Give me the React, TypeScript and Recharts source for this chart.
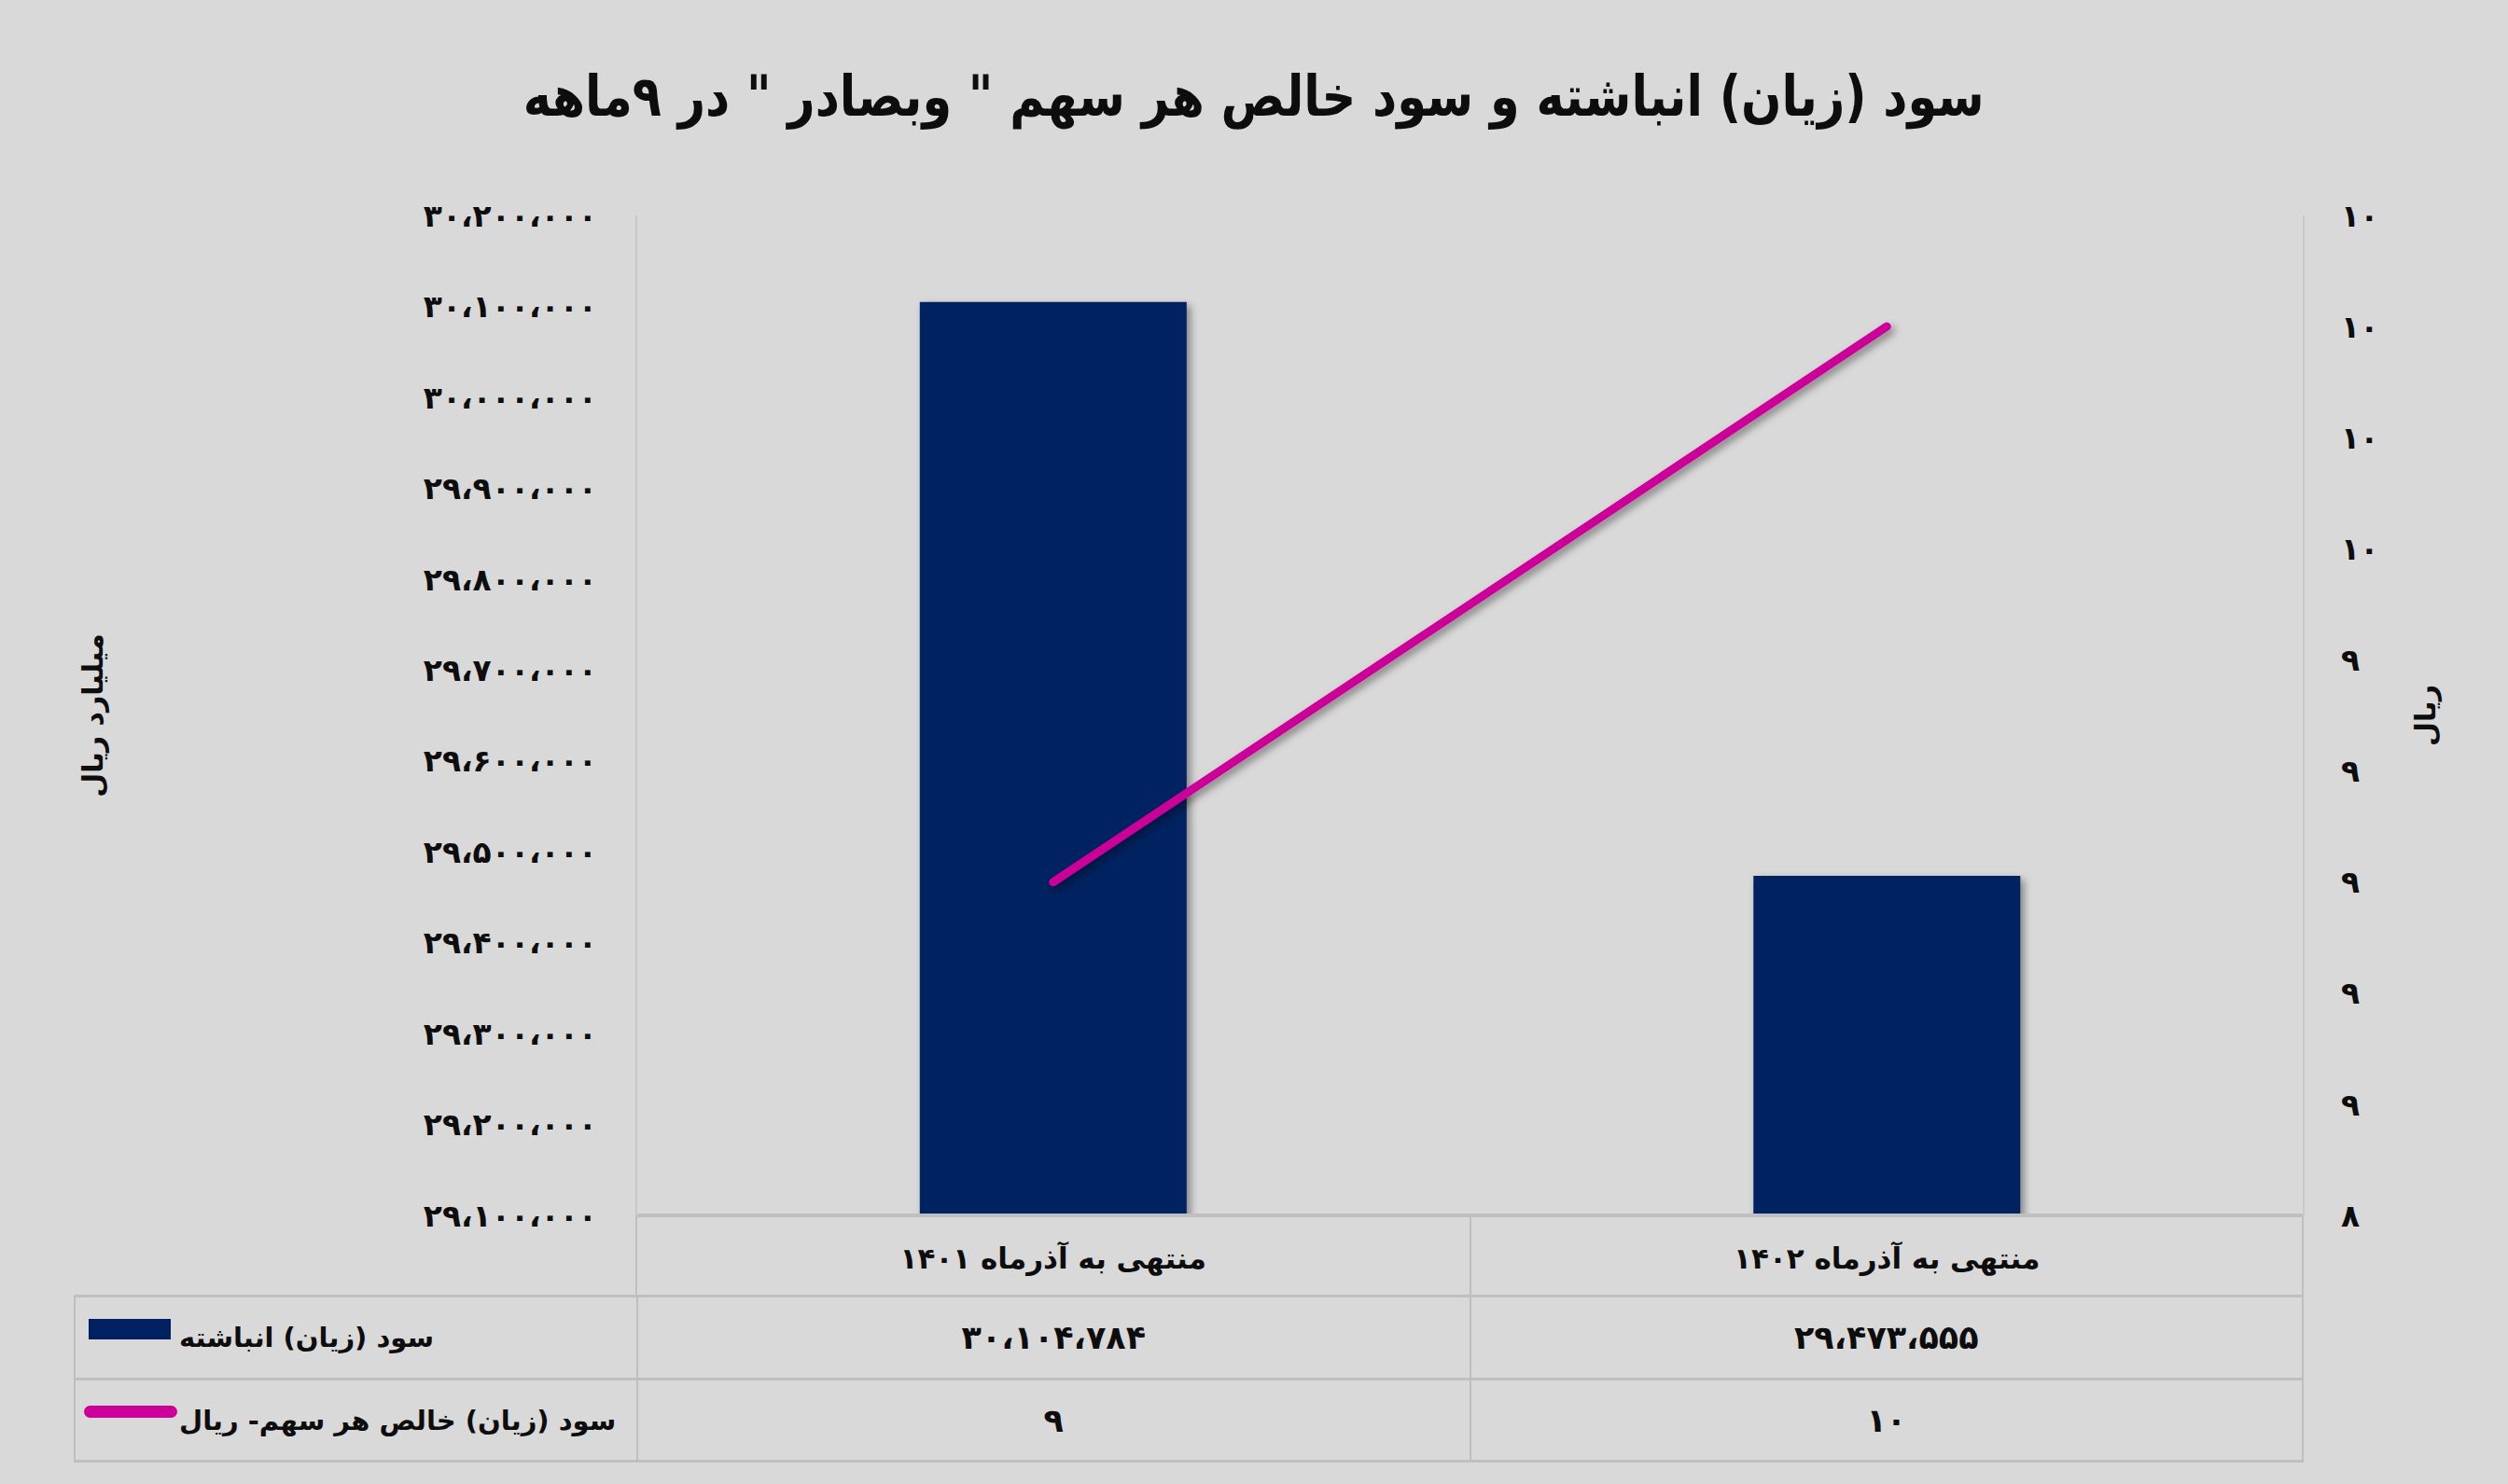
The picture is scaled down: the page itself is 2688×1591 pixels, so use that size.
import React from "react";
import { ComposedChart, Bar, Line, XAxis, YAxis } from "recharts";

// chart data
const categories = ["منتهی به آذرماه ۱۴۰۱", "منتهی به آذرماه ۱۴۰۲"];
const retainedEarnings = [30104784, 29473555]; // میلیارد ریال
const epsValues = [9, 10]; // ریال
const seriesNames = ["سود (زیان) انباشته", "سود (زیان) خالص هر سهم- ریال"];
const leftTicks = [
    29100000, 29200000, 29300000, 29400000, 29500000, 29600000,
    29700000, 29800000, 29900000, 30000000, 30100000, 30200000,
];
const rightTicks = [8.4, 8.6, 8.8, 9, 9.2, 9.4, 9.6, 9.8, 10, 10.2];

const chartData = categories.map((name, i) => ({
    name,
    earnings: retainedEarnings[i],
    eps: epsValues[i],
}));

const NAVY = "#002060";
const MAGENTA = "#CC0099";
const GRID = "#BFBFBF";
const INK = "#0d0d0d";
const FONT = "'DejaVu Sans', sans-serif";

const toFa = (s: string | number) =>
    String(s).replace(/\d/g, (d) => "۰۱۲۳۴۵۶۷۸۹"[+d]);
const faNumber = (n: number) => toFa(n.toLocaleString("en-US")).replace(/,/g, "،");

export default function App() {
    return (
        <div
            style={{
                position: "absolute",
                left: 0,
                top: 0,
                width: 2688,
                height: 1591,
                background: "#D9D9D9",
                fontFamily: FONT,
                overflow: "hidden",
            }}
        >
            {/* title */}
            <div
                dir="rtl"
                style={{
                    position: "absolute",
                    left: 0,
                    top: 58,
                    width: 2688,
                    height: 90,
                    lineHeight: "90px",
                    textAlign: "center",
                    fontSize: 60,
                    fontWeight: "bold",
                    color: INK,
                    transform: "scaleX(0.85)",
                    transformOrigin: "1342px 45px",
                }}
            >
                سود (زیان) انباشته و سود خالص هر سهم " وبصادر " در ۹ماهه
            </div>

            <div style={{ position: "absolute", left: 0, top: 0 }}>
                <ComposedChart
                    width={2688}
                    height={1591}
                    data={chartData}
                    margin={{ top: 231, right: 0, bottom: 202, left: 0 }}
                    barCategoryGap="34%"
                >
                    <defs>
                        <filter id="shadow" x="-20%" y="-20%" width="140%" height="140%">
                            <feDropShadow dx="4" dy="4" stdDeviation="4" floodColor="#000" floodOpacity="0.4" />
                        </filter>
                    </defs>
                    <XAxis
                        dataKey="name"
                        height={86}
                        axisLine={{ stroke: GRID, strokeWidth: 4 }}
                        tickLine={false}
                        tickSize={0}
                        tick={({ x, y, payload }: any) => (
                            <text
                                x={x}
                                y={y + 44}
                                textAnchor="middle"
                                dominantBaseline="central"
                                fontFamily={FONT}
                                fontWeight="bold"
                                fontSize={31}
                                fill={INK}
                            >
                                {payload.value}
                            </text>
                        )}
                    />
                    <XAxis
                        xAxisId="top"
                        dataKey="name"
                        orientation="top"
                        height={0}
                        tick={false}
                        tickLine={false}
                        axisLine={{ stroke: GRID, strokeWidth: 4 }}
                    />
                    <YAxis
                        yAxisId="left"
                        width={682}
                        domain={[29100000, 30200000]}
                        ticks={leftTicks}
                        allowDataOverflow
                        axisLine={{ stroke: "#C8C8C8", strokeWidth: 2 }}
                        tickLine={false}
                        tickSize={0}
                        tickMargin={42}
                        tickFormatter={(v: number) => faNumber(v)}
                        tick={{ fontFamily: FONT, fontWeight: "bold", fontSize: 33, fill: INK }}
                        label={({ viewBox }: any) => (
                            <text
                                x={viewBox.x + 99}
                                y={viewBox.y + viewBox.height / 2}
                                transform={`rotate(-90 ${viewBox.x + 99} ${viewBox.y + viewBox.height / 2})`}
                                textAnchor="middle"
                                dominantBaseline="central"
                                fontFamily={FONT}
                                fontWeight="bold"
                                fontSize={30}
                                fill={INK}
                            >
                                میلیارد ریال
                            </text>
                        )}
                    />
                    <YAxis
                        yAxisId="right"
                        orientation="right"
                        width={219}
                        domain={[8.4, 10.2]}
                        ticks={rightTicks}
                        allowDataOverflow
                        axisLine={{ stroke: "#C8C8C8", strokeWidth: 2 }}
                        tickLine={false}
                        tickSize={0}
                        tickMargin={40}
                        tickFormatter={(v: number) => toFa(Math.round(v))}
                        tick={{ fontFamily: FONT, fontWeight: "bold", fontSize: 33, fill: INK }}
                        label={({ viewBox }: any) => (
                            <text
                                x={viewBox.x + 130}
                                y={viewBox.y + viewBox.height / 2}
                                transform={`rotate(-90 ${viewBox.x + 130} ${viewBox.y + viewBox.height / 2})`}
                                textAnchor="middle"
                                dominantBaseline="central"
                                fontFamily={FONT}
                                fontWeight="bold"
                                fontSize={30}
                                fill={INK}
                            >
                                ریال
                            </text>
                        )}
                    />
                    <Bar
                        yAxisId="left"
                        dataKey="earnings"
                        fill={NAVY}
                        filter="url(#shadow)"
                        isAnimationActive={false}
                    />
                    <Line
                        yAxisId="right"
                        dataKey="eps"
                        type="linear"
                        stroke={MAGENTA}
                        strokeWidth={9}
                        strokeLinecap="round"
                        dot={false}
                        activeDot={false}
                        filter="url(#shadow)"
                        isAnimationActive={false}
                    />
                </ComposedChart>
            </div>

            {/* header row dividers (under category labels) */}
            <div
                style={{
                    position: "absolute",
                    left: 681,
                    top: 1303,
                    width: 1788,
                    height: 86,
                    borderLeft: `2px solid ${GRID}`,
                    borderRight: `2px solid ${GRID}`,
                    boxSizing: "border-box",
                }}
            >
                <div style={{ position: "absolute", left: 892, top: 0, width: 2, height: 86, background: GRID }} />
            </div>

            {/* data table */}
            <div
                style={{
                    position: "absolute",
                    left: 79,
                    top: 1388,
                    width: 2390,
                    display: "grid",
                    gridTemplateColumns: "603px 1fr 1fr",
                    gridTemplateRows: "89px 88px",
                    borderTop: `3px solid ${GRID}`,
                    borderLeft: `2px solid ${GRID}`,
                    boxSizing: "border-box",
                    color: INK,
                    fontWeight: "bold",
                }}
            >
                {seriesNames.map((name, r) => {
                    const values = r === 0 ? retainedEarnings.map(faNumber) : epsValues.map((v) => toFa(v));
                    const cell: React.CSSProperties = {
                        borderRight: `2px solid ${GRID}`,
                        borderBottom: `3px solid ${GRID}`,
                        display: "flex",
                        alignItems: "center",
                        boxSizing: "border-box",
                        whiteSpace: "nowrap",
                    };
                    return (
                        <React.Fragment key={name}>
                            <div style={{ ...cell, paddingLeft: r === 0 ? 14 : 9, fontSize: 29 }}>
                                {r === 0 ? (
                                    <span style={{ width: 88, height: 22, background: NAVY, marginTop: -18, flexShrink: 0 }} />
                                ) : (
                                    <span
                                        style={{
                                            width: 100,
                                            height: 13,
                                            borderRadius: 7,
                                            background: MAGENTA,
                                            marginTop: -18,
                                            flexShrink: 0,
                                        }}
                                    />
                                )}
                                <span dir="rtl" style={{ marginLeft: r === 0 ? 9 : 2 }}>
                                    {name}
                                </span>
                            </div>
                            {values.map((v, i) => (
                                <div key={i} style={{ ...cell, justifyContent: "center", fontSize: 35 }}>
                                    {v}
                                </div>
                            ))}
                        </React.Fragment>
                    );
                })}
            </div>
        </div>
    );
}
